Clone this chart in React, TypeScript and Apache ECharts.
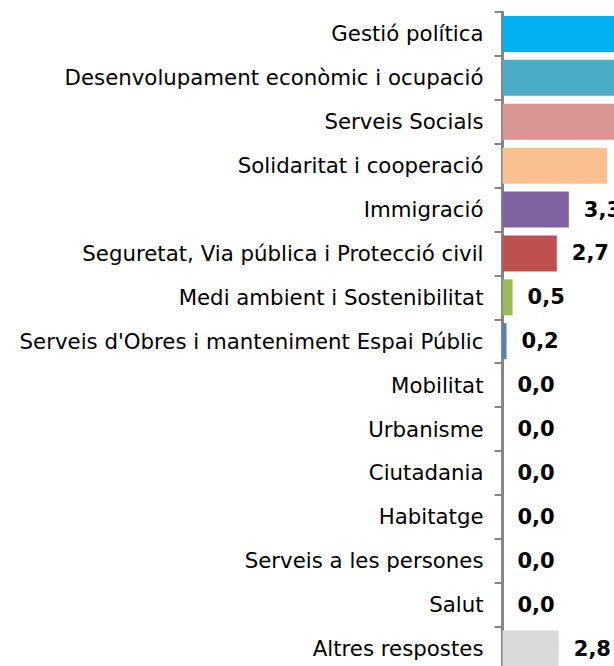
import React, { useEffect, useRef } from "react";
import * as echarts from "echarts";

const categories = [
  "Gestió política",
  "Desenvolupament econòmic i ocupació",
  "Serveis Socials",
  "Solidaritat i cooperació",
  "Immigració",
  "Seguretat, Via pública i Protecció civil",
  "Medi ambient i Sostenibilitat",
  "Serveis d'Obres i manteniment Espai Públic",
  "Mobilitat",
  "Urbanisme",
  "Ciutadania",
  "Habitatge",
  "Serveis a les persones",
  "Salut",
  "Altres respostes",
];

const values = [16.4, 9.3, 6.3, 5.2, 3.3, 2.7, 0.5, 0.2, 0.0, 0.0, 0.0, 0.0, 0.0, 0.0, 2.8];

// labels of the top bars fall outside the visible crop in the reference
const labelVisible = [false, false, false, false, true, true, true, true, true, true, true, true, true, true, true];

const colors = [
  "#00B0F0",
  "#4BACC6",
  "#D99694",
  "#FAC090",
  "#8064A2",
  "#C0504D",
  "#9BBB59",
  "#4F81BD",
  "#4F81BD",
  "#4F81BD",
  "#4F81BD",
  "#4F81BD",
  "#4F81BD",
  "#4F81BD",
  "#D9D9D9",
];

const X_MAX = 25;

export default function App() {
  const ref = useRef<HTMLDivElement>(null);
  useEffect(() => {
    if (!ref.current) return;
    const chart = echarts.init(ref.current, null, { renderer: "svg" });
    chart.setOption({
      animation: false,
      backgroundColor: "#ffffff",
      grid: { left: 502.5, top: 12, width: 20.1 * X_MAX, height: 658.5 },
      xAxis: {
        type: "value",
        min: 0,
        max: X_MAX,
        show: false,
        splitLine: { show: false },
      },
      yAxis: {
        type: "category",
        inverse: true,
        data: categories,
        axisLine: { show: true, lineStyle: { color: "#868686", width: 3 } },
        axisTick: { show: true, length: 8, lineStyle: { color: "#868686", width: 2 } },
        axisLabel: {
          margin: 19,
          color: "#000000",
          fontFamily: "DejaVu Sans",
          fontSize: 21.3,
        },
        splitLine: { show: false },
      },
      series: [
        {
          type: "bar",
          data: values.map((v, i) => ({
            value: v,
            itemStyle: { color: colors[i] },
            label: { show: labelVisible[i] },
          })),
          barWidth: 36,
          label: {
            show: true,
            position: "right",
            distance: 15,
            color: "#000000",
            fontFamily: "DejaVu Sans",
            fontWeight: "bold",
            fontSize: 21,
            formatter: (p: any) => Number(p.value).toFixed(1).replace(".", ","),
          },
        },
      ],
    });
    return () => chart.dispose();
  }, []);
  return (
    <div
      style={{
        position: "fixed",
        left: 0,
        top: 0,
        width: 614,
        height: 666,
        overflow: "hidden",
        background: "#fff",
      }}
    >
      <div ref={ref} style={{ width: 1100, height: 680 }} />
    </div>
  );
}
